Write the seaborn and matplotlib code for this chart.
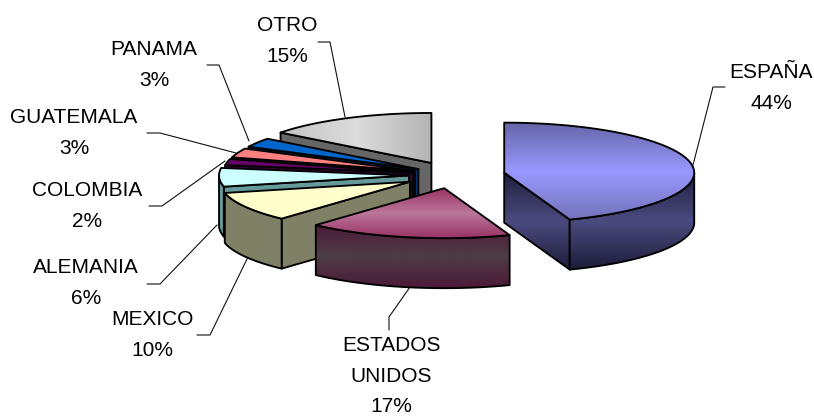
import numpy as np
import seaborn as sns
import matplotlib
matplotlib.use("Agg")
import matplotlib.pyplot as plt
from matplotlib.patches import Polygon

sns.set_theme(style="white")
plt.rcParams["font.family"] = ["Liberation Sans", "DejaVu Sans"]

# Data, clockwise from 12 o'clock (labels show these rounded)
countries = ["ESPAÑA", "ESTADOS\nUNIDOS", "MEXICO", "ALEMANIA",
             "COLOMBIA", "GUATEMALA", "PANAMA", "OTRO"]
shares = [44.4, 17.4, 9.6, 6.0, 2.0, 3.0, 3.0, 14.6]

# Colours for top faces and side faces
top_colors = [["#6666aa", "#9999ff", "#7272bb"],
              ["#993366", "#bb7799", "#993366"],
              ["#ffffcc"], ["#ccffff"], ["#660066"],
              ["#ff8080"], ["#0066cc"],
              ["#c4c4c4", "#dcdcdc", "#b4b4b4"]]
side_colors = [["#20203f", "#4b4b80", "#1c1c3a"],
               ["#4d1a38", "#4d3d46", "#4d1a38"],
               ["#808066"], ["#669999"], ["#330033"],
               ["#804040"], ["#003366"], ["#666666"]]

# Label centres and leader lines, in pixels
label_xy = [(771, 88), (391, 376), (152, 335), (86, 283),
            (87, 206), (74, 133), (154, 65), (287, 41)]
leaders = [[(725, 87), (713, 87), (693, 165)],
           [(389, 330), (389, 317), (410, 287)],
           [(197, 335), (210, 335), (248, 257)],
           [(147, 284), (160, 284), (217, 225)],
           [(149, 206), (162, 206), (225, 161)],
           [(147, 133), (160, 133), (236, 153)],
           [(207, 65), (219, 65), (249, 141)],
           [(318, 42), (330, 42), (345, 117)]]

# Pie geometry in pixels
cx, cy = 454, 175
rx, ry = 190, 50
depth = 50
explode = [51, 51, 51, 45, 42, 42, 42, 51]
draw_order = [7, 6, 5, 4, 3, 2, 0, 1]

fig, ax = plt.subplots(figsize=(8.14, 4.17), dpi=100)
ax.set_position([0, 0, 1, 1])


def fill_face(verts, colors, zorder, horizontal=False):
    verts = np.array(verts)
    poly = Polygon(verts, closed=True, facecolor=colors[0], edgecolor="black",
                   lw=1.35, joinstyle="round", zorder=zorder + 0.5)
    if len(colors) > 1:
        poly.set_facecolor("none")
        cmap = sns.blend_palette(colors, n_colors=64, as_cmap=True)
        grad = np.linspace(0, 1, 128).reshape(-1, 1)
        if horizontal:
            grad = grad.T
        x0, y0 = verts.min(axis=0)
        x1, y1 = verts.max(axis=0)
        im = ax.imshow(grad, cmap=cmap, extent=(x0, x1, y1, y0), origin="upper",
                       aspect="auto", zorder=zorder)
        clip = Polygon(verts, closed=True, transform=ax.transData)
        im.set_clip_path(clip)
    ax.add_patch(poly)


def rim(ox, oy, a0, a1):
    t = np.radians(np.linspace(a0, a1, 60))
    return np.column_stack([ox + rx * np.sin(t), oy - ry * np.cos(t)])


edges = np.cumsum([0] + shares) * 3.6

for z, i in enumerate(draw_order):
    a0, a1 = edges[i], edges[i + 1]
    mid = np.radians((a0 + a1) / 2)
    ox = cx + explode[i] * np.sin(mid)
    oy = cy - explode[i] * ry / rx * np.cos(mid)
    z0 = 2 + z * 4
    down = np.array([0, depth])
    apex = np.array([ox, oy])
    for a, visible in ((a0, np.sin(np.radians(a0)) < -1e-6),
                       (a1, np.sin(np.radians(a1)) > 1e-6)):
        if visible:
            p = rim(ox, oy, a, a)[0]
            fill_face([apex, p, p + down, apex + down], side_colors[i], z0)
    # outer wall only where the rim faces the viewer
    lo, hi = max(a0, 90), min(a1, 270)
    if lo < hi:
        arc = rim(ox, oy, lo, hi)
        fill_face(np.vstack([arc, (arc + down)[::-1]]), side_colors[i], z0 + 1)
    top = np.vstack([apex, rim(ox, oy, a0, a1)])
    fill_face(top, top_colors[i], z0 + 2, horizontal=(i == 7))

for name, share, (x, y), line in zip(countries, shares, label_xy, leaders):
    ax.text(x, y, f"{name}\n{share:.0f}%", ha="center", va="center", fontsize=15,
            linespacing=1.75, color="black", zorder=60)
    xs, ys = zip(*line)
    ax.plot(xs, ys, color="#111111", lw=0.8, zorder=1)

ax.set_xlim(0, 814)
ax.set_ylim(417, 0)
ax.axis("off")
fig.savefig("out.png", dpi=100, facecolor="white")
